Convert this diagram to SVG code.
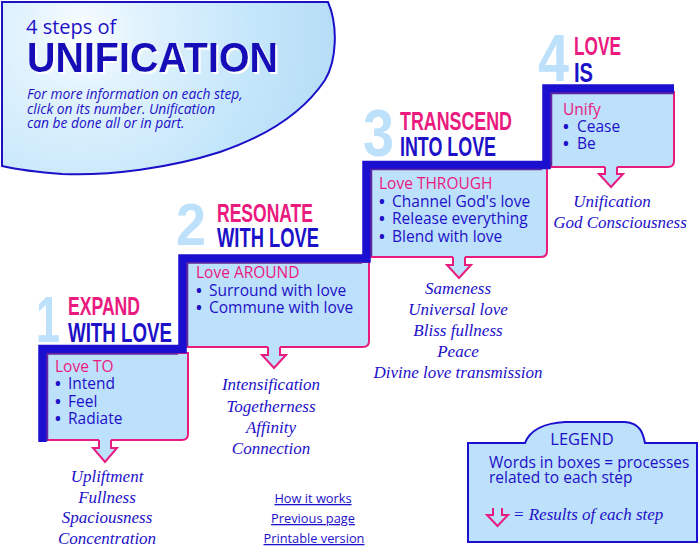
<svg xmlns="http://www.w3.org/2000/svg" width="700" height="550" viewBox="0 0 700 550">
<defs>
<radialGradient id="bannerGrad" gradientUnits="userSpaceOnUse" cx="80" cy="35" r="290">
<stop offset="0" stop-color="#fbfeff"/>
<stop offset="0.2" stop-color="#e2f3fd"/>
<stop offset="0.6" stop-color="#c4e6fa"/>
<stop offset="1" stop-color="#b0daf5"/>
</radialGradient>
<filter id="whiteShadow" x="-5%" y="-20%" width="115%" height="150%">
<feOffset in="SourceAlpha" dx="1.5" dy="1.5" result="off"/>
<feFlood flood-color="#ffffff"/>
<feComposite in2="off" operator="in" result="sh"/>
<feMerge><feMergeNode in="sh"/><feMergeNode in="SourceGraphic"/></feMerge>
</filter>
<style>
.box{fill:#bde0fb;stroke:#e81c7e;stroke-width:2}
.arrowFill{fill:#bde0fb;stroke:none}
.arrowLine{fill:none;stroke:#e81c7e;stroke-width:2;stroke-linejoin:miter}
.stair{fill:none;stroke:#1c10d0;stroke-width:8.5;stroke-linejoin:miter;stroke-linecap:butt}
.inner{fill:none;stroke:#5b2a9a;stroke-width:1.5}
.num{font-family:"Liberation Sans",Arial,sans-serif;font-weight:bold;fill:#bde0fb}
.hp{font-family:"Liberation Sans",Arial,sans-serif;font-weight:bold;fill:#ea1a7f}
.hb{font-family:"Liberation Sans",Arial,sans-serif;font-weight:bold;fill:#1c10c8}
.bt{font-family:"Open Sans","DejaVu Sans",sans-serif;font-size:15.5px;fill:#1c10c8}
.bu{font-weight:bold}
.bp{font-family:"Open Sans","DejaVu Sans",sans-serif;font-size:15.5px;fill:#ea1a7f}
.res{font-family:"Liberation Serif","Times New Roman",serif;font-style:italic;font-size:17px;fill:#1c10c8;text-anchor:middle}
.link{font-family:"Open Sans","DejaVu Sans",sans-serif;font-size:12.8px;fill:#1c10c8;text-anchor:middle;text-decoration:underline}
</style>
</defs>
<g id="banner">
<path d="M2,2 H328 C338,25 337,60 325,80 C305,110 270,135 220,152 C170,168 110,176 62,174 C35,172 15,169 2,166 Z" fill="url(#bannerGrad)" stroke="#1c10c8" stroke-width="2"/>
<text x="26" y="34" font-family="Open Sans,DejaVu Sans,sans-serif" font-size="20" fill="#1c10c8">4 steps of</text>
<text x="27" y="72" font-family="Liberation Sans,Arial,sans-serif" font-weight="bold" font-size="42" fill="#1410b8" textLength="251" lengthAdjust="spacingAndGlyphs" filter="url(#whiteShadow)">UNIFICATION</text>
<text font-family="Open Sans,DejaVu Sans,sans-serif" font-style="italic" font-size="13.8" fill="#1c10c8">
<tspan x="27" y="99">For more information on each step,</tspan>
<tspan x="27" y="113.5">click on its number. Unification</tspan>
<tspan x="27" y="128">can be done all or in part.</tspan>
</text>
</g>
<g id="step1">
<path class="box" d="M46,353 H188 V434 Q188,440 182,440 H46 Z"/>
<text class="num" x="36" y="342" font-size="65" textLength="24" lengthAdjust="spacingAndGlyphs">1</text>
<text class="hp" x="68" y="315" font-size="25" textLength="72" lengthAdjust="spacingAndGlyphs">EXPAND</text>
<text class="hb" x="68" y="342" font-size="28" textLength="104" lengthAdjust="spacingAndGlyphs">WITH LOVE</text>
<text class="bp" x="55" y="372">Love TO</text>
<text class="bt" x="55" y="389"><tspan class="bu">•</tspan><tspan x="68">Intend</tspan></text>
<text class="bt" x="55" y="407"><tspan class="bu">•</tspan><tspan x="68">Feel</tspan></text>
<text class="bt" x="55" y="424"><tspan class="bu">•</tspan><tspan x="68">Radiate</tspan></text>
<polygon class="arrowFill" points="99,438 111,438 111,448 117,448 105,462 93,448 99,448"/>
<polyline class="arrowLine" points="99,440 99,448 93,448 105,462 117,448 111,448 111,440"/>
<text class="res" x="107" y="482">Upliftment</text>
<text class="res" x="107" y="503">Fullness</text>
<text class="res" x="107" y="523">Spaciousness</text>
<text class="res" x="107" y="544">Concentration</text>
</g>
<g id="step2">
<path class="box" d="M186,262 H369 V341 Q369,347 363,347 H186 Z"/>
<text class="num" x="176" y="245" font-size="60" textLength="30" lengthAdjust="spacingAndGlyphs">2</text>
<text class="hp" x="217" y="222" font-size="26" textLength="96" lengthAdjust="spacingAndGlyphs">RESONATE</text>
<text class="hb" x="217" y="247" font-size="27" textLength="102" lengthAdjust="spacingAndGlyphs">WITH LOVE</text>
<text class="bp" x="196" y="278">Love AROUND</text>
<text class="bt" x="196" y="296"><tspan class="bu">•</tspan><tspan x="209">Surround with love</tspan></text>
<text class="bt" x="196" y="313"><tspan class="bu">•</tspan><tspan x="209">Commune with love</tspan></text>
<polygon class="arrowFill" points="268,345 280,345 280,355 286,355 274,368 262,355 268,355"/>
<polyline class="arrowLine" points="268,347 268,355 262,355 274,368 286,355 280,355 280,347"/>
<text class="res" x="271" y="390">Intensification</text>
<text class="res" x="271" y="412">Togetherness</text>
<text class="res" x="271" y="433">Affinity</text>
<text class="res" x="271" y="454">Connection</text>
</g>
<g id="step3">
<path class="box" d="M370,168 H547 V251 Q547,257 541,257 H370 Z"/>
<text class="num" x="363" y="156" font-size="66" textLength="31" lengthAdjust="spacingAndGlyphs">3</text>
<text class="hp" x="400" y="130" font-size="25" textLength="112" lengthAdjust="spacingAndGlyphs">TRANSCEND</text>
<text class="hb" x="400" y="156" font-size="27" textLength="96" lengthAdjust="spacingAndGlyphs">INTO LOVE</text>
<text class="bp" x="379" y="189">Love THROUGH</text>
<text class="bt" x="379" y="207"><tspan class="bu">•</tspan><tspan x="392">Channel God's love</tspan></text>
<text class="bt" x="379" y="224"><tspan class="bu">•</tspan><tspan x="392">Release everything</tspan></text>
<text class="bt" x="379" y="242"><tspan class="bu">•</tspan><tspan x="392">Blend with love</tspan></text>
<polygon class="arrowFill" points="453,255 465,255 465,265 471,265 459,278 447,265 453,265"/>
<polyline class="arrowLine" points="453,257 453,265 447,265 459,278 471,265 465,265 465,257"/>
<text class="res" x="458" y="294">Sameness</text>
<text class="res" x="458" y="315">Universal love</text>
<text class="res" x="458" y="336">Bliss fullness</text>
<text class="res" x="458" y="357">Peace</text>
<text class="res" x="458" y="378">Divine love transmission</text>
</g>
<g id="step4">
<path class="box" d="M550,92 H674 V161 Q674,167 668,167 H550 Z"/>
<text class="num" x="538" y="81" font-size="67" textLength="31" lengthAdjust="spacingAndGlyphs">4</text>
<text class="hp" x="574" y="55" font-size="26" textLength="47" lengthAdjust="spacingAndGlyphs">LOVE</text>
<text class="hb" x="574" y="82" font-size="27" textLength="19" lengthAdjust="spacingAndGlyphs">IS</text>
<text class="bp" x="563" y="115">Unify</text>
<text class="bt" x="563" y="132"><tspan class="bu">•</tspan><tspan x="577">Cease</tspan></text>
<text class="bt" x="563" y="149"><tspan class="bu">•</tspan><tspan x="577">Be</tspan></text>
<polygon class="arrowFill" points="605,165 617,165 617,174 623,174 611,187 599,174 605,174"/>
<polyline class="arrowLine" points="605,167 605,174 599,174 611,187 623,174 617,174 617,167"/>
<text class="res" x="612" y="207">Unification</text>
<text class="res" x="620" y="228">God Consciousness</text>
</g>
<g id="connectors">
<path class="stair" d="M42.5,442 V349 H182.5 V258.5 H366.5 V165 H546.5 V88.5 H674"/>
<path class="inner" d="M47.5,441 V354 H178 M187.5,346 V263 H362 M371.5,256 V169.5 H542 M551.5,166 V93.5 H674"/>
</g>
<g id="legend">
<path d="M468,443 H525 C530,430 545,423 565,422 H625 C640,423 643,433 645,443 H697 V542 H468 Z" fill="#bde0fb" stroke="#1c10d0" stroke-width="2"/>
<text x="582" y="445" font-family="Open Sans,DejaVu Sans,sans-serif" font-size="16.5" fill="#1c10c8" text-anchor="middle">LEGEND</text>
<text font-family="Open Sans,DejaVu Sans,sans-serif" font-size="15.5" fill="#1c10c8">
<tspan x="489" y="468">Words in boxes = processes</tspan>
<tspan x="489" y="483">related to each step</tspan>
</text>
<polyline class="arrowLine" points="493,508 493,515 487,515 497.5,526 508,515 502,515 502,508"/>
<text x="513" y="520" font-family="Liberation Serif,Times New Roman,serif" font-style="italic" font-size="17" fill="#1c10c8">= Results of each step</text>
</g>
<g id="links">
<text class="link" x="313" y="503">How it works</text>
<text class="link" x="313" y="523">Previous page</text>
<text class="link" x="314" y="543">Printable version</text>
</g>
</svg>
